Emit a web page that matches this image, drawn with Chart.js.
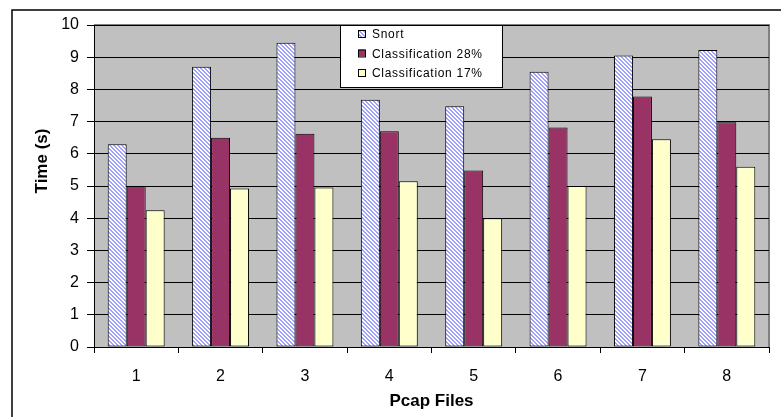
<!DOCTYPE html>
<html>
<head>
<meta charset="utf-8">
<script src="https://cdn.jsdelivr.net/npm/chart.js@4.4.0/dist/chart.umd.min.js"></script>
<style>
  html, body { margin: 0; padding: 0; background: #fff; }
  #wrap { position: relative; width: 781px; height: 417px; }
</style>
</head>
<body>
<div id="wrap"><canvas id="chart" width="781" height="417"></canvas></div>
<script>
// chart data
const pcapFiles = ["1", "2", "3", "4", "5", "6", "7", "8"];
const snortTimes = [6.3, 8.7, 9.45, 7.68, 7.48, 8.55, 9.05, 9.22];
const class28Times = [5.0, 6.5, 6.62, 6.7, 5.48, 6.82, 7.78, 6.98];
const class17Times = [4.25, 4.92, 4.95, 5.15, 4.0, 5.0, 6.45, 5.6];
const seriesNames = ["Snort", "Classification 28%", "Classification 17%"];
const yTitle = "Time (s)";

//Small diagonal hatch used for the Snort bars
function makeHatch() {
  const c = document.createElement("canvas");
  c.width = 4;
  c.height = 4;
  const g = c.getContext("2d");
  g.fillStyle = "#ffffff";
  g.fillRect(0, 0, 4, 4);
  g.fillStyle = "#a0a0ff";
  for (let i = 0; i < 4; i++) {
    g.fillRect(i, i, 1, 1);
    g.fillRect((i + 1) % 4, i, 1, 1);
  }
  return g.createPattern(c, "repeat");
}

const hatch = makeHatch();
const fills = [hatch, "#993366", "#ffffcc"];

//Gray plot area, outer frame, y title and the boxed legend
const framePlugin = {
  id: "frame",
  beforeDraw(chart) {
    const { ctx, chartArea: a } = chart;
    ctx.save();
    ctx.fillStyle = "#c0c0c0";
    ctx.fillRect(a.left, a.top, a.right - a.left, a.bottom - a.top);
    ctx.strokeStyle = "#808080";
    ctx.lineWidth = 2;
    ctx.beginPath();
    ctx.moveTo(a.left, a.top);
    ctx.lineTo(a.right, a.top);
    ctx.lineTo(a.right, a.bottom);
    ctx.stroke();
    ctx.strokeStyle = "#000";
    ctx.lineWidth = 1.5;
    ctx.strokeRect(12, 10, 800, 500);

    // y axis title sits a bit above the plot middle, like the original
    ctx.translate(42, 161);
    ctx.rotate(-Math.PI / 2);
    ctx.fillStyle = "#000";
    ctx.font = "bold 17px 'Liberation Sans', Arial, sans-serif";
    ctx.textAlign = "center";
    ctx.textBaseline = "middle";
    ctx.fillText(yTitle, 0, 0);
    ctx.restore();
  },
  afterDraw(chart) {
    const ctx = chart.ctx;
    ctx.save();
    ctx.fillStyle = "#fff";
    ctx.fillRect(340, 25, 162, 62);
    ctx.strokeStyle = "#000";
    ctx.lineWidth = 1;
    ctx.strokeRect(340.5, 25.5, 162, 62);
    ctx.font = "12px 'Liberation Sans', Arial, sans-serif";
    ctx.letterSpacing = "0.7px";
    ctx.textBaseline = "middle";
    seriesNames.forEach((name, i) => {
      const y = 34 + i * 19.5;
      ctx.fillStyle = fills[i];
      ctx.fillRect(358, y - 4, 7, 7);
      ctx.strokeStyle = "#000";
      ctx.strokeRect(358.5, y - 3.5, 7, 7);
      ctx.fillStyle = "#000";
      ctx.fillText(name, 372, y + 1);
    });
    ctx.restore();
  }
};

new Chart(document.getElementById("chart"), {
  type: "bar",
  data: {
    labels: pcapFiles,
    datasets: [snortTimes, class28Times, class17Times].map((vals, i) => ({
      label: seriesNames[i],
      data: vals,
      backgroundColor: fills[i],
      borderColor: "#000",
      borderWidth: 1,
      borderSkipped: false,
      categoryPercentage: 0.675,
      barPercentage: 1
    }))
  },
  options: {
    responsive: false,
    animation: false,
    layout: { padding: { left: 0, right: 12, top: 25, bottom: 0 } },
    plugins: { legend: { display: false }, tooltip: { enabled: false } },
    scales: {
      x: {
        afterFit(s) { s.height = 70; },
        grid: { drawOnChartArea: false, offset: true, tickLength: 6, color: "#000" },
        border: { color: "#000", width: 1 },
        ticks: { color: "#000", padding: 14, font: { size: 16, family: "'Liberation Sans', Arial" } },
        title: {
          display: true,
          text: "Pcap Files",
          color: "#000",
          padding: { top: 0, bottom: 5 },
          font: { size: 17, weight: "bold", family: "'Liberation Sans', Arial" }
        }
      },
      y: {
        min: 0,
        max: 10,
        afterFit(s) { s.width = 94; },
        grid: { color: "#000", tickLength: 7, lineWidth: 1 },
        border: { color: "#000", width: 1 },
        ticks: { stepSize: 1, color: "#000", padding: 8, font: { size: 16, family: "'Liberation Sans', Arial" } }
      }
    }
  },
  plugins: [framePlugin]
});
</script>
</body>
</html>
